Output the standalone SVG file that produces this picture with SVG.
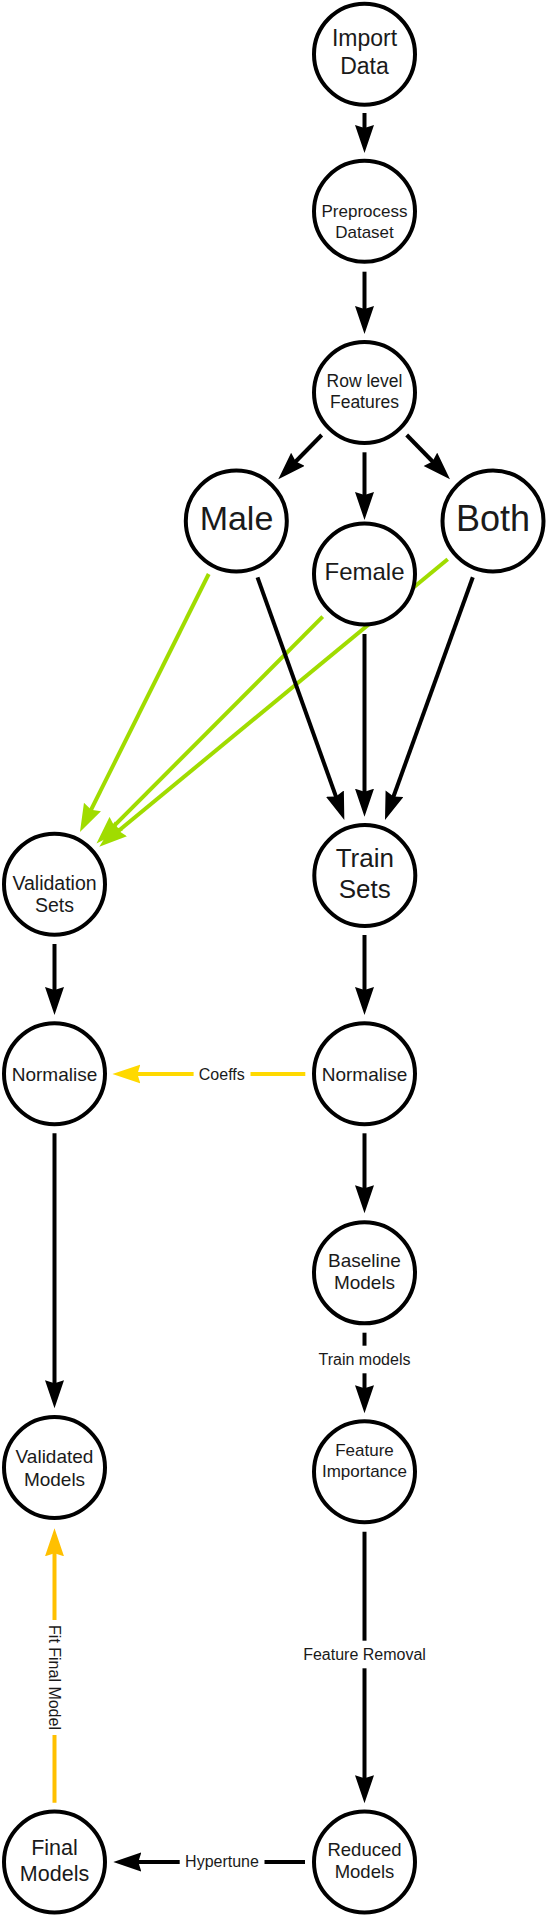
<svg xmlns="http://www.w3.org/2000/svg" width="547" height="1917" viewBox="0 0 547 1917">
<style>
.node circle{fill:#fff;stroke:#000;stroke-width:4}
.node text,.lbl{font-family:"Liberation Sans",Arial,sans-serif;fill:#1a1a1a;text-anchor:middle}
.c{fill:none;stroke-width:4}
.k{stroke:#000}.g{stroke:#A0DC00}.y{stroke:#FFD900}.o{stroke:#FFC000}
.lbl{font-size:16px}
</style>
<defs>
<marker id="ak" markerUnits="userSpaceOnUse" markerWidth="30" markerHeight="20" refX="8" refY="9.5" orient="auto"><path d="M0,0 L28,9.5 L0,19 L3,9.5 Z" fill="#000"/></marker>
<marker id="ag" markerUnits="userSpaceOnUse" markerWidth="30" markerHeight="20" refX="8" refY="9.5" orient="auto"><path d="M0,0 L28,9.5 L0,19 L3,9.5 Z" fill="#A0DC00"/></marker>
<marker id="ay" markerUnits="userSpaceOnUse" markerWidth="30" markerHeight="20" refX="8" refY="9.5" orient="auto"><path d="M0,0 L28,9.5 L0,19 L3,9.5 Z" fill="#FFD900"/></marker>
<marker id="ao" markerUnits="userSpaceOnUse" markerWidth="30" markerHeight="20" refX="8" refY="9.5" orient="auto"><path d="M0,0 L28,9.5 L0,19 L3,9.5 Z" fill="#FFC000"/></marker>
</defs>
<g id="connectors">
<line class="c k" x1="364.5" y1="113" x2="364.5" y2="133" marker-end="url(#ak)"/>
<line class="c k" x1="364.5" y1="271.7" x2="364.5" y2="314" marker-end="url(#ak)"/>
<line class="c k" x1="321.7" y1="435" x2="292.3" y2="465" marker-end="url(#ak)"/>
<line class="c k" x1="364.5" y1="452.3" x2="364.5" y2="500" marker-end="url(#ak)"/>
<line class="c k" x1="406.7" y1="435" x2="436" y2="465" marker-end="url(#ak)"/>
<line class="c g" x1="208.7" y1="574" x2="88.9" y2="814.1" marker-end="url(#ag)"/>
<line class="c g" x1="322.7" y1="616.7" x2="110.6" y2="829.3" marker-end="url(#ag)"/>
<line class="c g" x1="447.7" y1="559.3" x2="114.7" y2="834" marker-end="url(#ag)"/>
<line class="c k" x1="257.5" y1="577.3" x2="337.6" y2="801.2" marker-end="url(#ak)"/>
<line class="c k" x1="364.5" y1="634" x2="364.5" y2="796.7" marker-end="url(#ak)"/>
<line class="c k" x1="472.8" y1="577.3" x2="391.8" y2="801.2" marker-end="url(#ak)"/>
<line class="c k" x1="54.5" y1="944" x2="54.5" y2="995" marker-end="url(#ak)"/>
<line class="c k" x1="364.5" y1="935" x2="364.5" y2="995" marker-end="url(#ak)"/>
<line class="c y" x1="305.3" y1="1074" x2="132.4" y2="1074" marker-end="url(#ay)"/>
<rect x="193.6" y="1062" width="56.9" height="24" fill="#fff"/>
<text class="lbl" x="221.8" y="1079.5">Coeffs</text>
<line class="c k" x1="364.5" y1="1133.3" x2="364.5" y2="1193.3" marker-end="url(#ak)"/>
<line class="c k" x1="54.5" y1="1133.3" x2="54.5" y2="1388.3" marker-end="url(#ak)"/>
<line class="c k" x1="364.5" y1="1332.7" x2="364.5" y2="1393.3" marker-end="url(#ak)"/>
<rect x="314" y="1345.7" width="101" height="27.6" fill="#fff"/>
<text class="lbl" x="364.5" y="1364.5">Train models</text>
<line class="c k" x1="364.5" y1="1531.7" x2="364.5" y2="1783.3" marker-end="url(#ak)"/>
<rect x="298" y="1640.7" width="133" height="27.6" fill="#fff"/>
<text class="lbl" x="364.5" y="1659.5">Feature Removal</text>
<line class="c k" x1="305" y1="1862" x2="133.3" y2="1862" marker-end="url(#ak)"/>
<rect x="179.7" y="1850" width="84.8" height="24" fill="#fff"/>
<text class="lbl" x="222" y="1867">Hypertune</text>
<line class="c o" x1="54.5" y1="1802.7" x2="54.5" y2="1548.3" marker-end="url(#ao)"/>
<rect x="42" y="1620" width="25" height="115" fill="#fff"/>
<text class="lbl" transform="translate(54.5 1677.5) rotate(90)" x="0" y="5.7">Fit Final Model</text>
</g>
<g id="import" class="node"><circle cx="364.5" cy="54.2" r="50.5"/><text font-size="23" x="364.5" y="45.7">Import</text><text font-size="23" x="364.5" y="74">Data</text></g>
<g id="preprocess" class="node"><circle cx="364.5" cy="211.3" r="50.5"/><text font-size="17" x="364.5" y="217.3">Preprocess</text><text font-size="17" x="364.5" y="237.7">Dataset</text></g>
<g id="rowlevel" class="node"><circle cx="364.5" cy="392.5" r="50.5"/><text font-size="17.5" x="364.5" y="386.7">Row level</text><text font-size="17.5" x="364.5" y="408.3">Features</text></g>
<g id="male" class="node"><circle cx="236.3" cy="521" r="50.5"/><text font-size="34" x="236.5" y="530">Male</text></g>
<g id="both" class="node"><circle cx="493" cy="521" r="50.5"/><text font-size="36" x="493" y="530.5">Both</text></g>
<g id="female" class="node"><circle cx="364.5" cy="574" r="50.5"/><text font-size="24" x="364.5" y="580">Female</text></g>
<g id="validation" class="node"><circle cx="54.5" cy="884.2" r="50.5"/><text font-size="19.5" x="54.5" y="890">Validation</text><text font-size="19.5" x="54.5" y="912.3">Sets</text></g>
<g id="train" class="node"><circle cx="364.8" cy="875.5" r="50.5"/><text font-size="26" x="364.8" y="866.7">Train</text><text font-size="26" x="364.8" y="898.3">Sets</text></g>
<g id="normL" class="node"><circle cx="54.5" cy="1073.7" r="50.5"/><text font-size="19" x="54.5" y="1080.5">Normalise</text></g>
<g id="normR" class="node"><circle cx="364.5" cy="1073.7" r="50.5"/><text font-size="19" x="364.5" y="1080.5">Normalise</text></g>
<g id="baseline" class="node"><circle cx="364.5" cy="1272.8" r="50.5"/><text font-size="19" x="364.5" y="1266.7">Baseline</text><text font-size="19" x="364.5" y="1289.3">Models</text></g>
<g id="featimp" class="node"><circle cx="364.5" cy="1471.7" r="50.5"/><text font-size="17" x="364.5" y="1456">Feature</text><text font-size="17" x="364.5" y="1476.7">Importance</text></g>
<g id="validated" class="node"><circle cx="54.5" cy="1467.5" r="50.5"/><text font-size="19" x="54.5" y="1462.7">Validated</text><text font-size="19" x="54.5" y="1486">Models</text></g>
<g id="final" class="node"><circle cx="54.5" cy="1862" r="50.5"/><text font-size="21.5" x="54.5" y="1855">Final</text><text font-size="21.5" x="54.5" y="1880.7">Models</text></g>
<g id="reduced" class="node"><circle cx="364.5" cy="1862" r="50.5"/><text font-size="18.5" x="364.5" y="1856">Reduced</text><text font-size="18.5" x="364.5" y="1878.3">Models</text></g>
</svg>
